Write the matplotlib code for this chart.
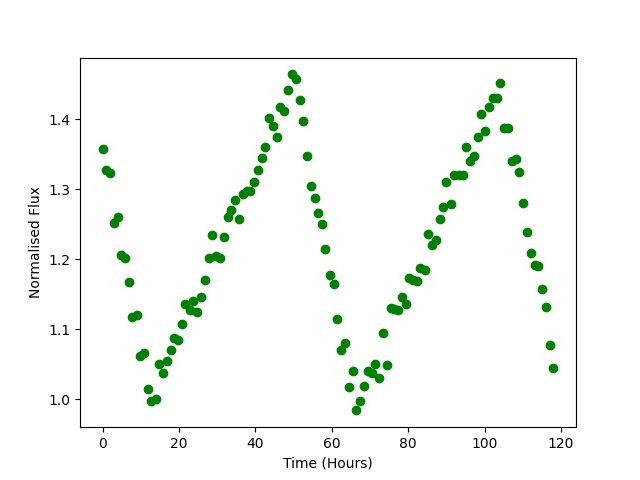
import numpy as np
from matplotlib import pyplot as plt

# time of each observation (hours) and normalised flux
time_hours = np.array([
    0.0, 0.8, 2.0, 2.9, 4.1, 4.8, 6.0, 6.9, 7.8, 9.0,
    9.7, 10.9, 11.9, 12.8, 14.0, 14.7, 15.8, 16.8, 17.8, 18.8,
    19.8, 20.9, 21.7, 22.8, 23.7, 24.7, 25.8, 26.8, 27.8, 28.6,
    29.7, 30.8, 31.7, 32.9, 33.6, 34.6, 35.7, 36.7, 37.7, 38.6,
    39.6, 40.7, 41.6, 42.6, 43.5, 44.6, 45.6, 46.5, 47.6, 48.5,
    49.6, 50.7, 51.6, 52.4, 53.5, 54.6, 55.6, 56.5, 57.4, 58.3,
    59.4, 60.5, 61.3, 62.3, 63.4, 64.5, 65.5, 66.3, 67.3, 68.3,
    69.4, 70.4, 71.4, 72.4, 73.4, 74.4, 75.4, 76.4, 77.4, 78.3,
    79.4, 80.1, 81.2, 82.3, 83.2, 84.4, 85.2, 86.3, 87.3, 88.3,
    89.2, 90.0, 91.2, 92.1, 93.3, 94.3, 95.1, 96.2, 97.2, 98.2,
    99.0, 100.2, 101.1, 102.2, 103.2, 104.0, 105.0, 106.1, 107.2, 108.2,
    109.0, 110.0, 111.1, 112.1, 113.1, 114.0, 115.1, 116.0, 117.1, 118.0,
])
flux = np.array([
    1.357, 1.328, 1.323, 1.252, 1.260, 1.206, 1.201, 1.168, 1.117, 1.120,
    1.062, 1.066, 1.014, 0.997, 1.000, 1.051, 1.037, 1.054, 1.070, 1.087,
    1.084, 1.108, 1.136, 1.128, 1.140, 1.125, 1.146, 1.170, 1.202, 1.234,
    1.204, 1.202, 1.231, 1.260, 1.271, 1.284, 1.258, 1.293, 1.297, 1.298,
    1.310, 1.327, 1.344, 1.361, 1.402, 1.391, 1.375, 1.417, 1.412, 1.441,
    1.464, 1.458, 1.427, 1.398, 1.348, 1.304, 1.287, 1.266, 1.251, 1.215,
    1.177, 1.164, 1.114, 1.070, 1.081, 1.017, 1.041, 0.984, 0.997, 1.019,
    1.041, 1.037, 1.051, 1.031, 1.094, 1.049, 1.130, 1.129, 1.127, 1.146,
    1.136, 1.173, 1.170, 1.169, 1.187, 1.185, 1.236, 1.220, 1.228, 1.257,
    1.274, 1.310, 1.279, 1.320, 1.320, 1.321, 1.361, 1.341, 1.347, 1.374,
    1.407, 1.383, 1.417, 1.431, 1.431, 1.451, 1.388, 1.388, 1.341, 1.343,
    1.325, 1.280, 1.239, 1.209, 1.192, 1.190, 1.157, 1.131, 1.077, 1.045,
])

fig = plt.figure(figsize=(6.4, 4.8), dpi=100)
ax = fig.add_subplot(111)
ax.plot(time_hours, flux, "o", color="green")
ax.set_xlabel("Time (Hours)")
ax.set_ylabel("Normalised Flux")

fig.savefig("out.png", dpi=100)
